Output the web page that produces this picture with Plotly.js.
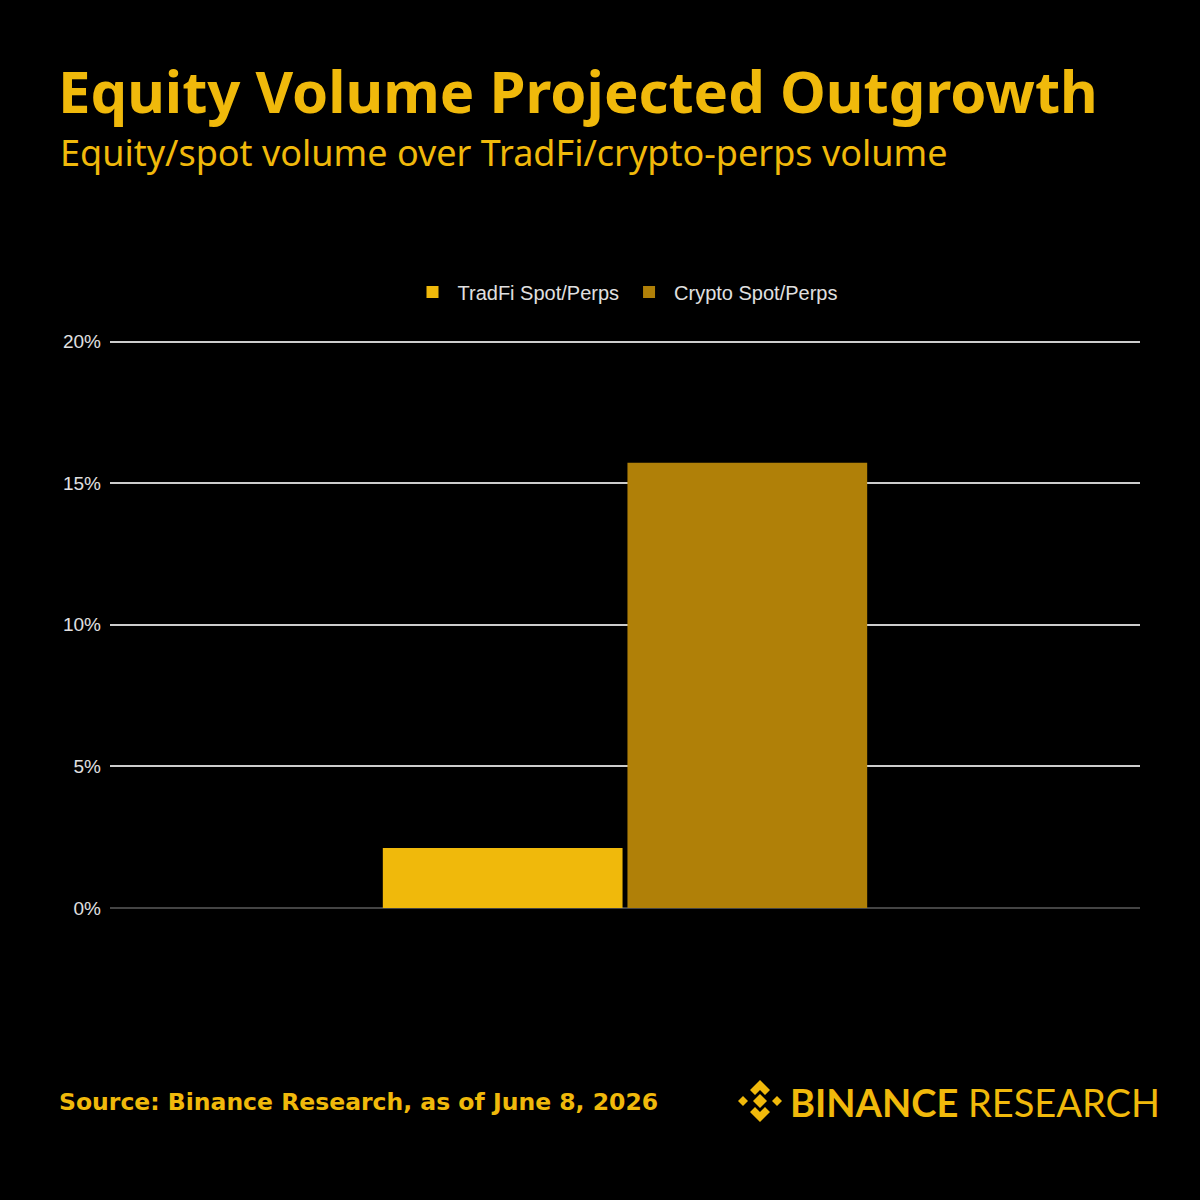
<!DOCTYPE html><html><head><script src="https://cdn.plot.ly/plotly-3.0.1.min.js"></script>
<style>body{margin:0;background:#000}</style></head><body><div id="c" style="width:1200px;height:1200px"></div><script>
const categories=["Equity/spot share"];
const seriesNames=["TradFi Spot/Perps","Crypto Spot/Perps"];
const tradfi=[0.0212];
const crypto=[0.1572];
const yTicks=[0,0.05,0.10,0.15,0.20];
const yTickLabels=["0%","5%","10%","15%","20%"];
const L=110,R=1140,B=908,T=Math.round(B-566*1.01);
const px=x=>(x-L)/(R-L), py=y=>(B-y)/(B-T);
function dia(cx,cy,r){return `M${px(cx)},${py(cy-r)} L${px(cx+r)},${py(cy)} L${px(cx)},${py(cy+r)} L${px(cx-r)},${py(cy)} Z`;}
const gold='#F0B90B';
const shapes=[];
[[760,1101,7],[743,1101,5],[777,1101,5]].forEach(d=>shapes.push({type:'path',xref:'paper',yref:'paper',path:dia(d[0],d[1],d[2]),fillcolor:gold,line:{width:0}}));
shapes.push({type:'path',xref:'paper',yref:'paper',path:`M${px(750)},${py(1090)} L${px(760)},${py(1080)} L${px(770)},${py(1090)} L${px(765)},${py(1095)} L${px(760)},${py(1090)} L${px(755)},${py(1095)} Z`,fillcolor:gold,line:{width:0}});
shapes.push({type:'path',xref:'paper',yref:'paper',path:`M${px(750)},${py(1112)} L${px(760)},${py(1122)} L${px(770)},${py(1112)} L${px(765)},${py(1107)} L${px(760)},${py(1112)} L${px(755)},${py(1107)} Z`,fillcolor:gold,line:{width:0}});
const ann=(t,x,y,sz,w,fam)=>({text:t,xref:'paper',yref:'paper',x:px(x),y:py(y),xanchor:'left',yanchor:'middle',showarrow:false,font:{size:sz,color:gold,family:fam||'Open Sans',weight:w}});
Plotly.newPlot('c',[
{type:'bar',name:seriesNames[0],x:categories,y:tradfi,marker:{color:'#F0B90B'}},
{type:'bar',name:seriesNames[1],x:categories,y:crypto,marker:{color:'#B08008'}}
],{width:1200,height:1200,paper_bgcolor:'#000',plot_bgcolor:'#000',
margin:{l:L,r:1200-R,t:T,b:1200-B},barmode:'group',bargap:0.525,bargroupgap:0.02,
xaxis:{showticklabels:false,showgrid:false,zeroline:false,showline:false},
yaxis:{range:[0,0.202],tickvals:yTicks,ticktext:yTickLabels,gridcolor:'#cccccc',gridwidth:1.5,zeroline:true,zerolinecolor:'#444',zerolinewidth:1.5,ticklabelstandoff:8,
tickfont:{family:'Liberation Sans',size:19,color:'#e0e0e0'}},
showlegend:true,legend:{orientation:'h',x:0.5,xanchor:'center',y:py(292),yanchor:'middle',itemwidth:40,font:{family:'Liberation Sans',size:20,color:'#e0e0e0'}},
shapes:shapes,
annotations:[
ann('Equity Volume Projected Outgrowth',56,90,58,700,'Noto Sans'),
ann('Equity/spot volume over TradFi/crypto-perps volume',58,152,36,400,'Noto Sans'),
ann('Source: Binance Research, as of June 8, 2026',57,1102,23.5,700,'DejaVu Sans'),
ann('<b>BINANCE</b> RESEARCH',788,1102,38,400,'Lato')
]},{displayModeBar:false});
</script></body></html>
